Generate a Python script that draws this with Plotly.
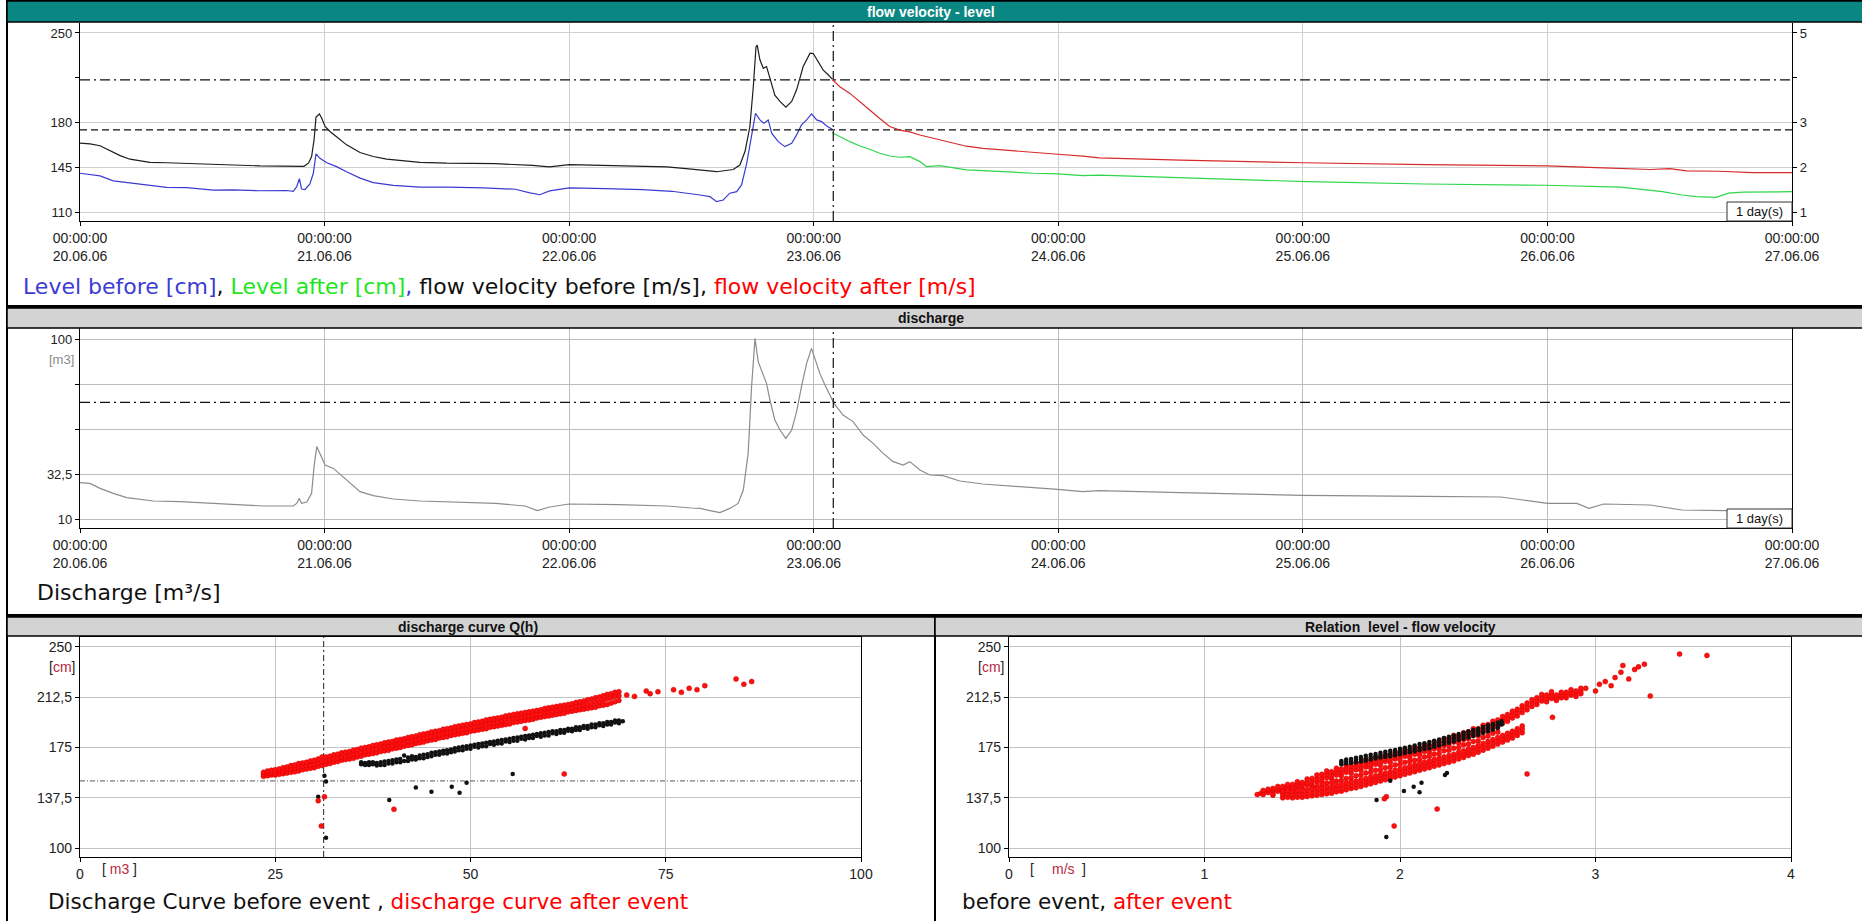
import plotly.graph_objects as go
import pandas as pd

W, H = 1862, 921


def fx(p):
    return p / W


def fy(p):
    return 1 - p / H


# ---------------- data ----------------
start = pd.Timestamp("2006-06-20 00:00:00")
tick_days = [0, 1, 2, 3, 4, 5, 6, 7]
tick_dates = ["20.06.06", "21.06.06", "22.06.06", "23.06.06",
              "24.06.06", "25.06.06", "26.06.06", "27.06.06"]

blue_days = [0.000, 0.082, 0.136, 0.218, 0.286, 0.354, 0.436, 0.545, 0.627, 0.736,
             0.845, 0.872, 0.886, 0.897, 0.906, 0.920, 0.940, 0.954, 0.965, 0.981,
             1.009, 1.049, 1.090, 1.145, 1.199, 1.281, 1.390, 1.50, 1.65, 1.78,
             1.84, 1.88, 1.92, 2.00, 2.15, 2.30, 2.42, 2.50, 2.535, 2.576,
             2.603, 2.630, 2.657, 2.685, 2.705, 2.726, 2.746, 2.762, 2.780, 2.796,
             2.814, 2.828, 2.855, 2.882, 2.910, 2.930, 2.950, 2.971, 2.991, 3.012,
             3.032, 3.053, 3.076]
level_before = [140.3, 138.2, 134.4, 132.3, 130.5, 129.2, 129.0, 127.1, 127.3, 126.6,
                126.8, 126.2, 129.8, 136.0, 128.0, 127.6, 132.0, 140.3, 155.5, 152.0,
                148.5, 145.5, 141.5, 136.5, 133.0, 130.8, 129.4, 129.5, 128.8, 127.8,
                125.0, 123.5, 126.5, 128.8, 128.3, 127.5, 126.2, 124.5, 123.3, 122.0,
                118.1, 119.4, 124.7, 125.9, 131.2, 148.1, 171.6, 187.2, 182.0, 179.4,
                182.0, 171.6, 165.0, 161.1, 163.8, 170.3, 178.1, 182.0, 186.7, 182.0,
                180.7, 177.3, 174.7]

black_days = [0.000, 0.041, 0.082, 0.123, 0.164, 0.204, 0.286, 0.354, 0.436, 0.518,
              0.627, 0.736, 0.831, 0.916, 0.934, 0.947, 0.957, 0.965, 0.979, 0.988,
              1.002, 1.022, 1.049, 1.090, 1.145, 1.199, 1.254, 1.308, 1.390, 1.50,
              1.70, 1.85, 1.92, 2.00, 2.20, 2.40, 2.50, 2.535, 2.603, 2.671,
              2.698, 2.719, 2.739, 2.753, 2.764, 2.769, 2.780, 2.794, 2.807, 2.821,
              2.841, 2.862, 2.886, 2.910, 2.930, 2.957, 2.985, 2.998, 3.019, 3.039,
              3.060, 3.076]
velocity_before = [2.54, 2.52, 2.48, 2.37, 2.26, 2.18, 2.11, 2.10, 2.08, 2.06,
                   2.05, 2.03, 2.03, 2.02, 2.09, 2.24, 2.61, 3.12, 3.19, 3.10,
                   2.91, 2.80, 2.68, 2.50, 2.33, 2.24, 2.18, 2.15, 2.11, 2.09,
                   2.08, 2.04, 2.01, 2.06, 2.04, 2.01, 1.96, 1.94, 1.90, 1.95,
                   2.05, 2.35, 2.91, 3.80, 4.69, 4.73, 4.40, 4.21, 4.25, 3.99,
                   3.61, 3.47, 3.34, 3.47, 3.73, 4.25, 4.55, 4.54, 4.36, 4.17,
                   4.06, 3.97]

red_days = [3.076, 3.107, 3.148, 3.189, 3.229, 3.270, 3.311, 3.352, 3.393, 3.434,
            3.488, 3.556, 3.624, 3.692, 3.760, 3.828, 3.896, 3.998, 4.100, 4.168,
            4.50, 5.00, 5.50, 6.00, 6.20, 6.42, 6.50, 6.57, 6.70, 6.84, 7.00]
velocity_after = [3.96, 3.80, 3.65, 3.47, 3.28, 3.09, 2.91, 2.83, 2.79, 2.72,
                  2.65, 2.55, 2.47, 2.42, 2.39, 2.35, 2.33, 2.29, 2.25, 2.21,
                  2.16, 2.10, 2.06, 2.03, 1.99, 1.95, 1.97, 1.92, 1.91, 1.88, 1.88]

green_days = [3.076, 3.107, 3.148, 3.189, 3.229, 3.270, 3.311, 3.352, 3.393, 3.434,
              3.461, 3.516, 3.570, 3.624, 3.692, 3.760, 3.828, 3.896, 3.998, 4.100,
              4.168, 4.53, 5.02, 5.50, 5.99, 6.30, 6.42, 6.47, 6.55, 6.61,
              6.69, 6.74, 6.80, 6.89, 7.00]
level_after = [172.0, 168.9, 165.0, 161.6, 159.1, 155.9, 153.8, 152.8, 153.3, 149.4,
               145.5, 146.3, 144.7, 142.9, 142.4, 141.6, 141.1, 140.3, 139.8, 138.5,
               138.9, 136.6, 133.7, 131.9, 130.9, 129.5, 127.2, 125.9, 123.3, 122.0,
               121.5, 124.7, 125.5, 125.9, 125.9]

discharge_days = [0.000, 0.041, 0.082, 0.136, 0.191, 0.245, 0.300, 0.409, 0.491, 0.627,
                  0.750, 0.872, 0.886, 0.897, 0.906, 0.927, 0.947, 0.957, 0.968, 0.981,
                  1.002, 1.036, 1.063, 1.104, 1.145, 1.199, 1.281, 1.390, 1.50, 1.70,
                  1.82, 1.87, 1.92, 2.00, 2.20, 2.40, 2.50, 2.535, 2.576, 2.616,
                  2.657, 2.691, 2.712, 2.732, 2.746, 2.760, 2.773, 2.794, 2.807, 2.821,
                  2.841, 2.862, 2.886, 2.910, 2.930, 2.950, 2.971, 2.991, 3.005, 3.025,
                  3.046, 3.066, 3.083, 3.120, 3.161, 3.202, 3.243, 3.284, 3.325, 3.366,
                  3.393, 3.434, 3.475, 3.529, 3.597, 3.692, 3.788, 3.896, 3.998, 4.100,
                  4.168, 4.50, 5.00, 5.50, 5.81, 5.90, 6.00, 6.12, 6.17, 6.23,
                  6.42, 6.55, 6.73, 7.00]
discharge = [28.2, 27.8, 25.3, 22.8, 20.7, 20.0, 19.0, 18.7, 18.2, 17.5,
             16.5, 16.5, 17.8, 20.3, 17.8, 18.5, 22.8, 36.2, 46.2, 42.8,
             37.0, 35.3, 32.5, 27.8, 23.7, 21.7, 20.0, 19.0, 18.5, 17.8,
             16.5, 14.2, 16.0, 17.5, 17.2, 16.5, 15.5, 15.3, 14.2, 13.2,
             15.3, 17.8, 24.5, 42.8, 76.2, 100.3, 88.7, 82.0, 77.8, 69.5,
             59.5, 54.5, 50.3, 54.5, 63.7, 76.2, 87.8, 95.3, 90.3, 82.8,
             77.0, 72.0, 67.8, 62.0, 58.7, 52.0, 47.8, 42.8, 38.7, 37.0,
             38.7, 34.5, 32.0, 31.7, 29.0, 27.5, 26.7, 25.7, 24.8, 23.7,
             24.2, 23.2, 21.8, 21.3, 21.0, 19.5, 17.8, 17.8, 15.3, 17.5,
             17.0, 14.5, 14.2, 14.8]

# cursor / reference lines
cursor_day = 3.08
cursor_velocity = 3.95
cursor_level = 174.2
cursor_discharge = 68.3
qh_cursor_q = 31.2
qh_cursor_level = 150.1

# discharge curve Q(h), after event: rows (discharge m3/s, level values cm)
qh_after_rows = [
    (23.5, 153.5, 155, 156.5), (24.0, 154, 156, 157.5), (24.5, 154.5, 156, 158),
    (25.0, 154.5, 156.5, 158.5), (25.5, 155, 157.5, 159), (26.0, 155.5, 157.5, 160),
    (26.5, 156, 158.5, 160.5), (27.0, 156.5, 159, 161.5), (27.5, 157, 159.5, 162),
    (28.0, 157.5, 160, 163), (28.5, 158.5, 161, 163.5), (29.0, 159, 161.5, 164),
    (29.5, 159.5, 162, 165), (30.0, 160, 162.5, 165.5), (30.5, 161, 163.5, 166.5),
    (31.0, 161.5, 164.5, 168), (31.5, 162.5, 165, 168), (32.0, 163, 165.5, 168.5),
    (32.5, 164, 166.5, 169.5), (33.0, 164.5, 167, 170), (33.5, 165.5, 168, 171),
    (34.0, 166, 168.5, 171.5), (34.5, 166.5, 169.5, 172), (35.0, 167, 170, 173),
    (35.5, 168, 170.5, 173.5), (36.0, 168.5, 171.5, 174.5), (36.5, 169.5, 172, 175),
    (37.0, 170, 172.5, 175.5), (37.5, 170.5, 173.5, 176.5), (38.0, 171, 174, 177),
    (38.5, 172, 174.5, 177.5), (39.0, 172.5, 175.5, 178.5), (39.5, 173, 176, 179),
    (40.0, 174, 176.5, 179.5), (40.5, 174.5, 177.5, 180.5), (41.0, 175, 178, 181),
    (41.5, 176, 178.5, 181.5), (42.0, 176.5, 179.5, 182.5), (42.5, 177, 180, 183),
    (43.0, 178, 180.5, 183.5), (43.5, 178.5, 181.5, 184.5), (44.0, 179, 182, 185),
    (44.5, 180, 182.5, 185.5), (45.0, 180.5, 183.5, 186.5), (45.5, 181, 184, 187),
    (46.0, 182, 184.5, 187.5), (46.5, 182.5, 185.5, 188.5), (47.0, 183, 186, 189),
    (47.5, 184, 186.5, 189.5), (48.0, 184.5, 187.5, 190.5), (48.5, 185, 188, 191),
    (49.0, 185.5, 188.5, 191.5), (49.5, 186, 189, 192), (50.0, 187, 189.5, 192.5),
    (50.5, 187.5, 190.5, 193.5), (51.0, 188, 191, 194), (51.5, 188.5, 191.5, 194.5),
    (52.0, 189, 192.5, 195.5), (52.5, 190, 193, 196), (53.0, 190.5, 193.5, 196.5),
    (53.5, 191, 194, 197), (54.0, 191.5, 194.5, 197.5), (54.5, 192, 195.5, 198.5),
    (55.0, 192.5, 196, 199), (55.5, 193.5, 196.5, 199.5), (56.0, 194, 197, 200),
    (56.5, 194.5, 197.5, 200.5), (57.0, 195, 198, 201), (57.5, 195.5, 198.5, 201.5),
    (58.0, 196, 199, 202), (58.5, 197, 199.5, 202.5), (59.0, 197.5, 200, 203),
    (59.5, 198, 201, 204), (60.0, 198.5, 201.5, 204.5), (60.5, 199, 202, 205),
    (61.0, 199.5, 202.5, 205.5), (61.5, 200, 203, 206), (62.0, 200.5, 203.5, 206.5),
    (62.5, 201.5, 204, 207), (63.0, 202, 204.5, 207.5), (63.5, 202.5, 205.5, 208.5),
    (64.0, 203, 206, 209), (64.5, 203.5, 206.5, 209.5), (65.0, 204, 207, 210.5),
    (65.5, 204.5, 207.5, 211), (66.0, 205, 208.5, 212), (66.5, 206, 209, 212.5),
    (67.0, 206.5, 210, 213.5), (67.5, 207, 211, 214.5), (68.0, 208, 212, 215),
    (68.5, 209, 213, 216), (69.0, 210, 213.5, 216.5),
    (70, 214), (71, 213), (72.5, 217), (73, 215), (74, 216.5), (76, 218), (77, 216),
    (78, 219), (79, 218), (80, 221), (84, 226), (85, 222), (86, 224),
    (30.5, 135.4), (31.3, 138.4), (30.9, 116.6), (40.2, 129), (57, 189.2), (62, 155.3)]

# discharge curve Q(h), before event
qh_before_rows = [
    (36, 162.5, 164), (36.5, 162, 163.5), (37, 162, 164), (37.5, 162.5, 164), (38, 161.5, 163.5),
    (38.5, 162, 164), (39, 162, 164.5), (39.5, 163, 165), (40, 163, 165.5), (40.5, 164, 166),
    (41, 164, 166.5), (41.5, 165, 169), (42, 165, 167.5), (42.5, 166, 168.5),
    (43, 166, 168), (43.5, 167, 169), (44, 167, 169.5), (44.5, 168, 170), (45, 168.5, 171),
    (45.5, 169.5, 171.5), (46, 169.5, 172), (46.5, 170.5, 172.5), (47, 170.5, 173),
    (47.5, 171.5, 173.5), (48, 172, 174.5), (48.5, 173, 175), (49, 173, 175.5),
    (49.5, 174, 176), (50, 174, 176.5), (50.5, 175.5, 177), (51, 175, 177.5),
    (51.5, 176, 178), (52, 176, 178.5), (52.5, 177.5, 179), (53, 177, 179.5),
    (53.5, 178, 180), (54, 178, 180.5), (54.5, 179.5, 181), (55, 179, 181.5),
    (55.5, 180, 182), (56, 180, 182.5), (56.5, 181.5, 183), (57, 181, 183.5),
    (57.5, 182, 184), (58, 182, 184.5), (58.5, 183.5, 185), (59, 183, 185.5),
    (59.5, 184, 186), (60, 184, 186.5), (60.5, 185.5, 187), (61, 185, 187),
    (61.5, 186, 188), (62, 186, 188), (62.5, 187.5, 189), (63, 187, 189),
    (63.5, 188, 190), (64, 188, 190), (64.5, 189.5, 191), (65, 189, 191),
    (65.5, 190, 192), (66, 190, 192), (66.5, 191.5, 193), (67, 191, 193),
    (67.5, 192, 194), (68, 192, 194), (68.5, 193.5, 195), (69, 193, 195), (69.5, 194.5),
    (31.3, 154), (31.5, 149.6), (30.5, 138.4), (31.5, 107.9), (39.6, 135.9),
    (43, 145.3), (45, 142), (47.6, 145.8), (48.6, 141.4), (49.5, 148.8), (55.4, 155.3)]

# relation level - flow velocity, after event: rows (velocity m/s, level values cm)
rel_after_rows = [
    (1.270, 140), (1.290, 141), (1.350, 139.5),
    (1.300, 140, 141.5, 143), (1.325, 141.5, 143, 144), (1.350, 141, 143, 144.5),
    (1.375, 142.5, 144, 146), (1.400, 142, 144, 146), (1.425, 144, 146, 147.5),
    (1.450, 143, 145.5, 147.5), (1.475, 145.5, 147.5, 149.5), (1.500, 144.5, 147, 149),
    (1.525, 147, 149, 151.5), (1.550, 147, 149.5, 152), (1.575, 149.5, 152, 154.5),
    (1.600, 150, 152.5, 155), (1.625, 152.5, 155, 157.5), (1.650, 152, 154.5, 157),
    (1.675, 154.5, 157, 159.5), (1.700, 154, 156.5, 159), (1.725, 156.5, 159, 161.5),
    (1.750, 156, 158.5, 161), (1.775, 158.5, 161, 163.5), (1.800, 158, 160.5, 163),
    (1.825, 160.5, 163, 165.5), (1.850, 160, 162.5, 165), (1.875, 162.5, 165, 167.5),
    (1.900, 162, 164.5, 167), (1.925, 164.5, 167, 169.5), (1.950, 164, 166.5, 169),
    (1.975, 166.5, 169, 171.5), (2.000, 166, 168.5, 171), (2.025, 168.5, 171, 173.5),
    (2.050, 167.5, 170, 172.5), (2.075, 170, 172.5, 175), (2.100, 169.5, 172, 174.5),
    (2.125, 172, 174.5, 177), (2.150, 171.5, 174, 176.5), (2.175, 174, 176.5, 179),
    (2.200, 174, 176.5, 179), (2.225, 176.5, 179, 181.5), (2.250, 176.5, 179, 181.5),
    (2.275, 179, 181.5, 184), (2.300, 178.5, 181, 183.5), (2.325, 181, 183.5, 186),
    (2.350, 181.5, 184, 186.5), (2.375, 184, 186.5, 189), (2.400, 184, 186.5, 189),
    (2.425, 186.5, 189, 191.5), (2.450, 187, 189.5, 192), (2.475, 189.5, 192, 194.5),
    (2.500, 190.5, 193, 195.5), (2.525, 193, 195.5, 198), (2.550, 194.5, 197, 199.5),
    (2.575, 197, 199.5, 202), (2.600, 198.5, 201, 203.5), (2.625, 201, 203.5, 206),
    (2.650, 203, 205.5, 208), (2.675, 205.5, 208, 210.5), (2.700, 207, 209.5, 212),
    (2.725, 209.5, 212, 214.5), (2.750, 209, 211.5, 214), (2.775, 211.5, 214, 216.5),
    (2.800, 210, 212, 214), (2.825, 212, 214, 216), (2.850, 212, 214, 216),
    (2.875, 214, 216, 218), (2.900, 213, 215, 217), (2.925, 215, 217, 219),
    (1.550, 145), (1.575, 146), (1.600, 147.5), (1.625, 148.5), (1.650, 149),
    (1.675, 150), (1.700, 150.5), (1.725, 152), (1.750, 152.5), (1.775, 154),
    (1.800, 154.5), (1.825, 156), (1.850, 156.5), (1.875, 158), (1.900, 158.5),
    (1.925, 160), (1.950, 160.5), (1.975, 162), (2.000, 162.5), (2.025, 164),
    (2.050, 164.5), (2.075, 165.5), (2.100, 166), (2.125, 168), (2.150, 168.5),
    (2.175, 170), (2.200, 170.5), (2.225, 172.5), (2.250, 173), (2.275, 174.5),
    (2.300, 175), (2.325, 177), (2.350, 177.5), (2.375, 179.5), (2.400, 180),
    (2.425, 182.5), (2.450, 183.5), (2.475, 185.5), (2.500, 186.5),
    (1.400, 137.5, 140, 142.5), (1.425, 138, 140.5, 143), (1.450, 137.5, 140, 142.5),
    (1.475, 138, 140.5, 143), (1.500, 138, 140.5, 143), (1.525, 138.5, 141, 143.5),
    (1.550, 139, 141.5, 144), (1.575, 139.5, 142, 144.5), (1.600, 140, 142.5, 145),
    (1.625, 140.5, 143, 145.5), (1.650, 141, 143.5, 146), (1.675, 142, 144.5, 147),
    (1.700, 142.5, 145, 147.5), (1.725, 143.5, 146, 148.5), (1.750, 144.5, 147, 149.5),
    (1.775, 145, 147.5, 150), (1.800, 146, 148.5, 151), (1.825, 147, 149.5, 152),
    (1.850, 148, 150.5, 153), (1.875, 149, 151.5, 154), (1.900, 150, 152.5, 155),
    (1.925, 151, 153.5, 156), (1.950, 152, 154.5, 157), (1.975, 153, 155.5, 158),
    (2.000, 154, 156.5, 159), (2.025, 155, 157.5, 160), (2.050, 156, 158.5, 161),
    (2.075, 157, 159.5, 162), (2.100, 158, 160.5, 163), (2.125, 159, 161.5, 164),
    (2.150, 160, 162.5, 165), (2.175, 161, 163.5, 166), (2.200, 162, 164.5, 167),
    (2.225, 163, 165.5, 168), (2.250, 164, 166.5, 169), (2.275, 165, 167.5, 170),
    (2.300, 166.5, 169, 171.5), (2.325, 167.5, 170, 172.5), (2.350, 169, 171.5, 174),
    (2.375, 170, 172.5, 175), (2.400, 171.5, 174, 176.5), (2.425, 173, 175.5, 178),
    (2.450, 174.5, 177, 179.5), (2.475, 176, 178.5, 181), (2.500, 177.5, 180, 182.5),
    (2.525, 179, 181.5, 184), (2.550, 180.5, 183, 185.5), (2.575, 182, 184.5, 187),
    (2.600, 184, 186.5, 189), (2.625, 186, 188.5, 191),
    (2.95, 219), (3.00, 217), (3.02, 222), (3.05, 224), (3.08, 221), (3.10, 227),
    (3.13, 231), (3.14, 236), (3.17, 226), (3.20, 233), (3.22, 235), (3.25, 237),
    (3.43, 244.5), (3.57, 243.5),
    (2.65, 155.3), (2.19, 129.2), (1.97, 116.6), (1.93, 138.4), (1.92, 136.8),
    (3.28, 213.3), (2.78, 197.4)]

# relation level - flow velocity, before event
rel_before_rows = [
    (1.700, 162.5, 163.8, 165), (1.725, 163, 164.5, 166), (1.750, 163.5, 165, 166.5),
    (1.775, 164, 165.7, 167.3), (1.800, 164.5, 166.2, 168), (1.825, 165.2, 167, 168.8),
    (1.850, 166, 167.8, 169.5), (1.875, 166.8, 168.5, 170.2), (1.900, 167.5, 169.2, 171),
    (1.925, 168, 170, 171.8), (1.950, 168.5, 170.5, 172.5), (1.975, 169.2, 171.2, 173.2),
    (2.000, 170, 172, 174), (2.025, 170.8, 172.8, 174.8), (2.050, 171.5, 173.5, 175.5),
    (2.075, 172.2, 174.3, 176.5), (2.100, 173, 175.2, 177.5), (2.125, 173.8, 176, 178.2),
    (2.150, 174.5, 176.8, 179), (2.175, 175.5, 177.8, 180), (2.200, 176.5, 178.8, 181),
    (2.225, 177.5, 179.8, 182), (2.250, 178.5, 180.8, 183), (2.275, 179.5, 181.8, 184),
    (2.300, 180.5, 182.8, 185), (2.325, 181.5, 183.8, 186), (2.350, 182.5, 184.8, 187),
    (2.375, 183.5, 185.8, 188), (2.400, 184.5, 186.8, 189), (2.425, 185.8, 188, 190.2),
    (2.450, 187, 189.2, 191.5), (2.475, 188.2, 190.4, 192.5), (2.500, 189.5, 191.5, 193.5),
    (2.520, 192, 193.2, 194.5),
    (1.88, 135.9), (1.95, 150.3), (2.02, 142.6), (2.07, 145.8), (2.10, 141.6),
    (2.11, 148.8), (2.23, 154.5), (2.24, 156), (1.93, 108.4)]

# axis ranges
level_range = [102.96, 257.8]
velocity_range = [(level_range[0] - 75) / 35, (level_range[1] - 75) / 35]
discharge_range = [5.5, 105.5]
scatter_level_range = [93.5, 257.2]


def to_time(days):
    return [start + pd.Timedelta(days=d) for d in days]


def flatten(rows):
    xs, ys = [], []
    for row in rows:
        for value in row[1:]:
            xs.append(row[0])
            ys.append(value)
    return xs, ys


# ---------------- styling constants ----------------
BLUE = "#3a3ad2"
GREEN = "#2ed64c"
BLACK = "#1e1e1e"
RED = "#d62a2a"
TEAL = "#0a8782"
BAR_GREY = "#d3d3d3"
UNIT_RED = "#b8283e"
DASHDOT = "10px,4px,2px,4px"
TICKFONT = dict(family="Liberation Sans, Arial, sans-serif", size=14, color="#222222")
YTICKFONT = dict(family="Liberation Sans, Arial, sans-serif", size=13, color="#222222")
CAPFONT = dict(family="DejaVu Sans, Verdana, sans-serif", size=22, color="#111111")

fig = go.Figure()

# ---- top panel: level / flow velocity ----
fig.add_trace(go.Scatter(x=to_time(blue_days), y=level_before, mode="lines",
                         line=dict(color=BLUE, width=1.2), xaxis="x", yaxis="y"))
fig.add_trace(go.Scatter(x=to_time(green_days), y=level_after, mode="lines",
                         line=dict(color=GREEN, width=1.2), xaxis="x", yaxis="y"))
fig.add_trace(go.Scatter(x=to_time(black_days), y=velocity_before, mode="lines",
                         line=dict(color=BLACK, width=1.2), xaxis="x", yaxis="y2"))
fig.add_trace(go.Scatter(x=to_time(red_days), y=velocity_after, mode="lines",
                         line=dict(color=RED, width=1.2), xaxis="x", yaxis="y2"))
fig.add_trace(go.Scatter(x=to_time([0, 7]), y=[cursor_velocity, cursor_velocity], mode="lines",
                         line=dict(color="#111", width=1.2, dash=DASHDOT), xaxis="x", yaxis="y2"))
fig.add_trace(go.Scatter(x=to_time([0, 7]), y=[cursor_level, cursor_level], mode="lines",
                         line=dict(color="#111", width=1.2, dash="7px,4px"), xaxis="x", yaxis="y"))
fig.add_trace(go.Scatter(x=to_time([cursor_day, cursor_day]), y=level_range, mode="lines",
                         line=dict(color="#111", width=1.2, dash=DASHDOT), xaxis="x", yaxis="y"))

# ---- discharge panel ----
fig.add_trace(go.Scatter(x=to_time(discharge_days), y=discharge, mode="lines",
                         line=dict(color="#8c8c8c", width=1.2), xaxis="x2", yaxis="y3"))
fig.add_trace(go.Scatter(x=to_time([0, 7]), y=[cursor_discharge, cursor_discharge], mode="lines",
                         line=dict(color="#111", width=1.2, dash=DASHDOT), xaxis="x2", yaxis="y3"))
fig.add_trace(go.Scatter(x=to_time([cursor_day, cursor_day]), y=discharge_range, mode="lines",
                         line=dict(color="#111", width=1.2, dash=DASHDOT), xaxis="x2", yaxis="y3"))

# ---- discharge curve Q(h) ----
fig.add_trace(go.Scatter(x=[0, 100], y=[qh_cursor_level, qh_cursor_level], mode="lines",
                         line=dict(color="#555", width=1, dash="5px,2px,1px,2px"), xaxis="x3", yaxis="y4"))
fig.add_trace(go.Scatter(x=[qh_cursor_q, qh_cursor_q], y=scatter_level_range, mode="lines",
                         line=dict(color="#222", width=1, dash="6px,3px,2px,3px"), xaxis="x3", yaxis="y4"))
qb_x, qb_y = flatten(qh_before_rows)
fig.add_trace(go.Scatter(x=qb_x, y=qb_y, mode="markers",
                         marker=dict(color="#111", size=4.5), xaxis="x3", yaxis="y4"))
qa_x, qa_y = flatten(qh_after_rows)
fig.add_trace(go.Scatter(x=qa_x, y=qa_y, mode="markers",
                         marker=dict(color="#ff1010", size=5, line=dict(color="#d00000", width=0.5)),
                         xaxis="x3", yaxis="y4"))

# ---- relation level - flow velocity ----
ra_x, ra_y = flatten(rel_after_rows)
fig.add_trace(go.Scatter(x=ra_x, y=ra_y, mode="markers",
                         marker=dict(color="#ff1010", size=5, line=dict(color="#d00000", width=0.5)),
                         xaxis="x4", yaxis="y5"))
rb_x, rb_y = flatten(rel_before_rows)
fig.add_trace(go.Scatter(x=rb_x, y=rb_y, mode="markers",
                         marker=dict(color="#111", size=4.5), xaxis="x4", yaxis="y5"))

date_ticktext = ["00:00:00<br>" + d for d in tick_dates]
date_tickvals = to_time(tick_days)

common_x = dict(showline=True, linecolor="#000", linewidth=1.2, ticks="outside", ticklen=4,
                tickcolor="#000", tickfont=TICKFONT, zeroline=False, showgrid=True,
                automargin=False)
common_y = dict(showline=True, linecolor="#000", linewidth=1.2, ticks="outside", ticklen=4,
                tickcolor="#000", zeroline=False, automargin=False)

fig.update_layout(
    width=W, height=H, margin=dict(l=0, r=0, t=0, b=0, pad=0, autoexpand=False),
    paper_bgcolor="white", plot_bgcolor="rgba(0,0,0,0)", showlegend=False,
    hovermode=False,
    xaxis=dict(**common_x, domain=[fx(80), fx(1792)], anchor="y", type="date",
               range=[start, start + pd.Timedelta(days=7)], tickvals=date_tickvals,
               ticktext=date_ticktext, gridcolor="#d0d0d0"),
    yaxis=dict(**common_y, showgrid=True, domain=[fy(221), fy(23)], anchor="x", range=level_range,
               tickvals=[110, 145, 180, 250], ticktext=["110", "145", "180", "250"],
               tickfont=YTICKFONT, gridcolor="#d0d0d0",
               minor=dict(tickvals=[215], ticks="outside", ticklen=4, tickcolor="#000", showgrid=False)),
    yaxis2=dict(**common_y, showgrid=False,
                overlaying="y", side="right", anchor="x", range=velocity_range,
                tickvals=[1, 2, 3, 4, 5], ticktext=["1", "2", "3", "", "5"], tickfont=YTICKFONT),
    xaxis2=dict(**common_x, domain=[fx(80), fx(1792)], anchor="y3", type="date",
                range=[start, start + pd.Timedelta(days=7)], tickvals=date_tickvals,
                ticktext=date_ticktext, gridcolor="#bdbdbd", mirror=True),
    yaxis3=dict(**common_y, showgrid=True, domain=[fy(528), fy(328)], anchor="x2", range=discharge_range,
                tickvals=[10, 32.5, 55, 77.5, 100], ticktext=["10", "32,5", "", "", "100"],
                tickfont=YTICKFONT, gridcolor="#bdbdbd", mirror=True),
    xaxis3=dict(**common_x, domain=[fx(80), fx(861)], anchor="y4", range=[0, 100],
                tickvals=[0, 25, 50, 75, 100], gridcolor="#c4c4c4", mirror=True),
    yaxis4=dict(**common_y, showgrid=True, domain=[fy(857), fy(637)], anchor="x3", range=scatter_level_range,
                tickvals=[100, 137.5, 175, 212.5, 250], ticktext=["100", "137,5", "175", "212,5", "250"],
                tickfont=TICKFONT, gridcolor="#c4c4c4", mirror=True),
    xaxis4=dict(**common_x, domain=[fx(1009), fx(1791)], anchor="y5", range=[0, 4],
                tickvals=[0, 1, 2, 3, 4], gridcolor="#c4c4c4", mirror=True),
    yaxis5=dict(**common_y, showgrid=True, domain=[fy(857), fy(637)], anchor="x4", range=scatter_level_range,
                tickvals=[100, 137.5, 175, 212.5, 250], ticktext=["100", "137,5", "175", "212,5", "250"],
                tickfont=TICKFONT, gridcolor="#c4c4c4", mirror=True),
)

# ---------------- frames, title bars ----------------
shapes = []


def rect(x0, y0, x1, y1, fill="rgba(0,0,0,0)", lw=1.5, lc="#000"):
    shapes.append(dict(type="rect", xref="paper", yref="paper", x0=fx(x0), x1=fx(x1),
                       y0=fy(y1), y1=fy(y0), fillcolor=fill, line=dict(color=lc, width=lw),
                       layer="above"))


rect(7, 1, 1870, 306, lw=2)
rect(7, 1, 1870, 22, fill=TEAL, lw=1.5)
rect(7, 308, 1870, 615, lw=2)
rect(7, 308, 1870, 328, fill=BAR_GREY, lw=1.5)
rect(7, 616, 935, 930, lw=2)
rect(7, 617, 935, 636, fill=BAR_GREY, lw=1.5)
rect(935, 616, 1870, 930, lw=2)
rect(935, 617, 1870, 636, fill=BAR_GREY, lw=1.5)
rect(1727, 202, 1792, 221, fill="white", lw=1, lc="#333")
rect(1727, 509, 1792, 528, fill="white", lw=1, lc="#333")

annotations = []


def note(text, x, y, font, xanchor="center"):
    annotations.append(dict(text=text, x=fx(x), y=fy(y), xref="paper", yref="paper",
                            showarrow=False, xanchor=xanchor, yanchor="middle", font=font))


TITLEFONT = dict(family="Liberation Sans, Arial, sans-serif", size=14)
note("<b>flow velocity - level</b>", 931, 12, dict(TITLEFONT, color="white"))
note("<b>discharge</b>", 931, 318.5, dict(TITLEFONT, color="#111"))
note("<b>discharge curve Q(h)</b>", 468, 627, dict(TITLEFONT, color="#111"))
note("<b>Relation\u00a0 level - flow velocity</b>", 1400, 627, dict(TITLEFONT, color="#111"))

DAYFONT = dict(family="Liberation Sans, Arial, sans-serif", size=13, color="#111")
note("1 day(s)", 1759.5, 211.5, DAYFONT)
note("1 day(s)", 1759.5, 518.5, DAYFONT)

note("[m3]", 62, 360, dict(family="Liberation Sans, Arial, sans-serif", size=13, color="#8a8a8a"))
note("[<span style='color:%s'>cm</span>]" % UNIT_RED, 62, 667,
     dict(family="Liberation Sans, Arial, sans-serif", size=14, color="#222"))
note("[<span style='color:%s'>cm</span>]" % UNIT_RED, 991, 667,
     dict(family="Liberation Sans, Arial, sans-serif", size=14, color="#222"))
note("[ <span style='color:%s'>m3</span> ]" % UNIT_RED, 119, 869,
     dict(family="Liberation Sans, Arial, sans-serif", size=14, color="#222"))
note("[", 1032, 869, dict(family="Liberation Sans, Arial, sans-serif", size=14, color="#222"))
note("m/s", 1063, 869, dict(family="Liberation Sans, Arial, sans-serif", size=14, color=UNIT_RED))
note("]", 1084, 869, dict(family="Liberation Sans, Arial, sans-serif", size=14, color="#222"))

note("<span style='color:%s'>Level before [cm]</span>, <span style='color:%s'>Level after [cm]</span>"
     "<span style='color:%s'>,</span> flow velocity before [m/s], "
     "<span style='color:#ff0000'>flow velocity after [m/s]</span>" % ("#3c3cd4", "#1ee61e", "#3c3cd4"),
     21, 286, CAPFONT, xanchor="left")
note("Discharge [m\u00b3/s]", 35, 592, CAPFONT, xanchor="left")
note("Discharge Curve before event , <span style='color:#ff0000'>discharge curve after event</span>",
     46, 901, dict(CAPFONT, size=21.5), xanchor="left")
note("before event, <span style='color:#ff0000'>after event</span>",
     960, 901, dict(CAPFONT, size=21.5), xanchor="left")

fig.update_layout(shapes=shapes, annotations=annotations)

fig.write_html("out.html", config={"displayModeBar": False, "staticPlot": True},
               post_script="document.body.style.margin='0';document.body.style.overflow='hidden';")
